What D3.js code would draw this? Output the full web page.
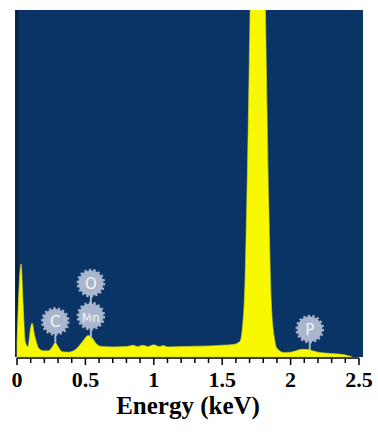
<!DOCTYPE html>
<html>
<head>
<meta charset="utf-8">
<script src="https://cdn.jsdelivr.net/npm/d3@7"></script>
<style>
  body { margin: 0; background: #fff; }
  svg { display: block; }
</style>
</head>
<body>
<svg id="chart" width="378" height="432"></svg>
<script>
// EDS spectrum (counts in arbitrary units)
const energy = [0.00, 0.015, 0.03, 0.045, 0.06, 0.08, 0.10, 0.11, 0.13, 0.16, 0.19, 0.23, 0.26, 0.28, 0.30, 0.33,
  0.38, 0.43, 0.48, 0.52, 0.55, 0.58, 0.62, 0.70, 0.80, 0.85, 0.88, 0.92, 0.96, 1.00, 1.04, 1.07, 1.10,
  1.20, 1.30, 1.40, 1.50, 1.58, 1.63, 1.66, 1.68, 1.70, 1.72, 1.76, 1.80, 1.82, 1.84, 1.86, 1.88, 1.90,
  1.95, 2.00, 2.04, 2.08, 2.12, 2.16, 2.20, 2.30, 2.40, 2.43, 2.45];
const counts = [40, 200, 268, 150, 45, 30, 85, 98, 60, 25, 18, 18, 30, 42, 30, 15,
  14, 22, 45, 62, 55, 38, 30, 29, 30, 34, 30, 34, 30, 35, 30, 33, 29,
  30, 31, 32, 34, 36, 45, 150, 450, 900, 1400, 2400, 1400, 900, 450, 150, 60, 25,
  13, 14, 18, 22, 22, 18, 14, 10, 6, 3, 0];

const elementNames = ["C", "Mn", "O", "P"];
const elementEnergies = [0.28, 0.54, 0.54, 2.14];

const xTicks = [0, 0.5, 1, 1.5, 2, 2.5];
const xTickLabels = ["0", "0.5", "1", "1.5", "2", "2.5"];
const xLabel = "Energy (keV)";

const svg = d3.select("#chart");
const plot = { left: 15, right: 363, top: 10, bottom: 357 };

const x = d3.scaleLinear().domain([0, 2.5]).range([17, 359]);
const y = d3.scaleLinear().domain([0, 1000]).range([plot.bottom, plot.top]);

svg.append("defs").append("clipPath").attr("id", "clip")
  .append("rect")
  .attr("x", plot.left).attr("y", plot.top)
  .attr("width", plot.right - plot.left).attr("height", plot.bottom - plot.top);

// background
svg.append("rect")
  .attr("x", plot.left).attr("y", plot.top)
  .attr("width", plot.right - plot.left).attr("height", plot.bottom - plot.top)
  .attr("fill", "#0b3466");

svg.append("line")
  .attr("x1", 17).attr("x2", 17)
  .attr("y1", plot.top).attr("y2", plot.bottom)
  .attr("stroke", "#06203f").attr("stroke-width", 3);

// spectrum
const pts = energy.map((e, i) => [e, counts[i]]);
svg.append("path")
  .datum(pts)
  .attr("clip-path", "url(#clip)")
  .attr("fill", "#f8f800")
  .attr("stroke", "#d8d820")
  .attr("stroke-width", 0.6)
  .attr("d", d3.area()
    .x(d => x(d[0]))
    .y0(y(0))
    .y1(d => y(d[1]))
    .curve(d3.curveMonotoneX));

// element markers
const countAt = e => {
  const i = d3.bisectLeft(energy, e);
  if (i <= 0) return counts[0];
  const t = (e - energy[i - 1]) / (energy[i] - energy[i - 1]);
  return counts[i - 1] + t * (counts[i] - counts[i - 1]);
};

const seen = {};
elementNames.forEach((name, i) => {
  const e = elementEnergies[i];
  const stack = seen[e] || 0;
  seen[e] = stack + 1;
  const cx = x(e);
  const base = y(countAt(e));
  const cy = base - 21 - stack * 33;
  const g = svg.append("g");
  g.append("line")
    .attr("x1", cx).attr("x2", cx)
    .attr("y1", cy).attr("y2", stack ? cy + 33 : base)
    .attr("stroke", "#a9b6cd").attr("stroke-width", 2);
  g.append("circle")
    .attr("cx", cx).attr("cy", cy).attr("r", 12.5)
    .attr("fill", "#a9b6cd");
  g.append("circle")
    .attr("cx", cx).attr("cy", cy).attr("r", 13.2)
    .attr("fill", "none")
    .attr("stroke", "#a9b6cd").attr("stroke-width", 2.2)
    .attr("stroke-dasharray", "2.3,2.3");
  g.append("text")
    .attr("x", cx).attr("y", cy + 5.5)
    .attr("text-anchor", "middle")
    .attr("fill", "#f4f6fa")
    .attr("font-family", "DejaVu Sans, sans-serif")
    .attr("font-size", name.length > 1 ? 13 : 15)
    .attr("textLength", name.length > 1 ? 18 : null)
    .attr("lengthAdjust", "spacingAndGlyphs")
    .text(name);
});

// x axis
const axisG = svg.append("g").attr("transform", `translate(0,${plot.bottom + 1})`);
axisG.append("line")
  .attr("x1", x(0)).attr("x2", x(2.5))
  .attr("stroke", "#000").attr("stroke-width", 1.5);
axisG.selectAll(".minor")
  .data(x.ticks(25))
  .enter().append("line")
  .attr("x1", d => x(d)).attr("x2", d => x(d))
  .attr("y1", 0).attr("y2", d => xTicks.some(t => Math.abs(t - d) < 1e-6) ? 7 : 5)
  .attr("stroke", "#000").attr("stroke-width", 1.5);
axisG.selectAll(".lbl")
  .data(xTicks)
  .enter().append("text")
  .attr("x", d => x(d))
  .attr("y", 29)
  .attr("text-anchor", "middle")
  .attr("font-family", "Liberation Serif, Times New Roman, serif")
  .attr("font-weight", "bold")
  .attr("font-size", 22)
  .text((d, i) => xTickLabels[i]);

svg.append("text")
  .attr("x", (x(0) + x(2.5)) / 2)
  .attr("y", 414)
  .attr("text-anchor", "middle")
  .attr("font-family", "Liberation Serif, Times New Roman, serif")
  .attr("font-weight", "bold")
  .attr("font-size", 25)
  .text(xLabel);
</script>
</body>
</html>
